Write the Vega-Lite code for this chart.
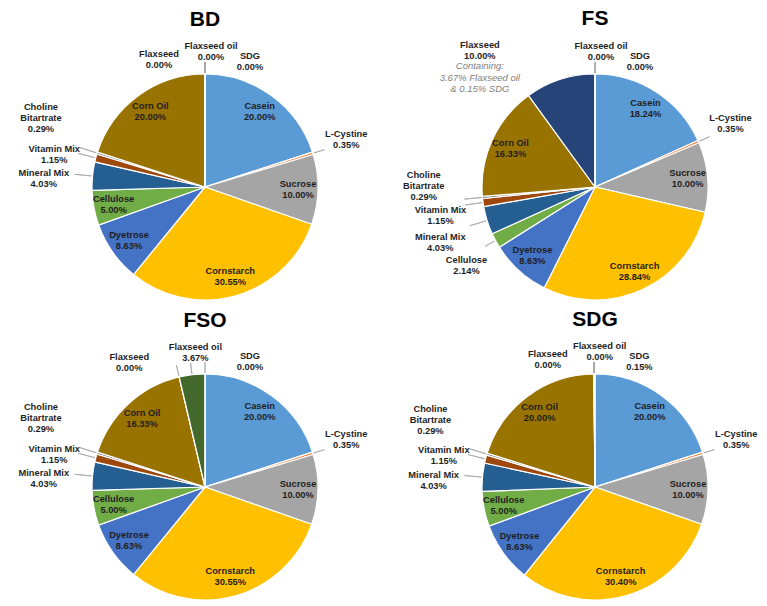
{
  "$schema": "https://vega.github.io/schema/vega-lite/v6.json",
  "padding": {"left": 18, "top": 8, "right": 0, "bottom": 0},
  "background": "#ffffff",
  "bounds": "flush",
  "columns": 2,
  "spacing": {"row": 64, "column": 50},
  "config": {
    "view": {"stroke": null},
    "font": "Liberation Sans",
    "title": {"font": "Liberation Sans", "fontSize": 21, "fontWeight": "bold", "color": "#000000", "anchor": "middle", "baseline": "alphabetic", "offset": 12},
    "text": {"font": "Liberation Sans", "fontSize": 9.3, "fontWeight": "bold", "color": "#1f1f1f", "lineBreak": "\n", "lineHeight": 11, "align": "center", "baseline": "middle"},
    "arc": {"stroke": "#ffffff", "strokeWidth": 1.2}
  },
  "data": {"values": [
    {"d": "BD", "k": 1, "name": "Casein", "v": 20.00},
    {"d": "BD", "k": 2, "name": "L-Cystine", "v": 0.35},
    {"d": "BD", "k": 3, "name": "Sucrose", "v": 10.00},
    {"d": "BD", "k": 4, "name": "Cornstarch", "v": 30.55},
    {"d": "BD", "k": 5, "name": "Dyetrose", "v": 8.63},
    {"d": "BD", "k": 6, "name": "Cellulose", "v": 5.00},
    {"d": "BD", "k": 7, "name": "Mineral Mix", "v": 4.03},
    {"d": "BD", "k": 8, "name": "Vitamin Mix", "v": 1.15},
    {"d": "BD", "k": 9, "name": "Choline Bitartrate", "v": 0.29},
    {"d": "BD", "k": 10, "name": "Corn Oil", "v": 20.00},
    {"d": "BD", "k": 11, "name": "Flaxseed", "v": 0},
    {"d": "BD", "k": 12, "name": "Flaxseed oil", "v": 0},
    {"d": "BD", "k": 13, "name": "SDG", "v": 0},
    {"d": "FS", "k": 1, "name": "Casein", "v": 18.24},
    {"d": "FS", "k": 2, "name": "L-Cystine", "v": 0.35},
    {"d": "FS", "k": 3, "name": "Sucrose", "v": 10.00},
    {"d": "FS", "k": 4, "name": "Cornstarch", "v": 28.84},
    {"d": "FS", "k": 5, "name": "Dyetrose", "v": 8.63},
    {"d": "FS", "k": 6, "name": "Cellulose", "v": 2.14},
    {"d": "FS", "k": 7, "name": "Mineral Mix", "v": 4.03},
    {"d": "FS", "k": 8, "name": "Vitamin Mix", "v": 1.15},
    {"d": "FS", "k": 9, "name": "Choline Bitartrate", "v": 0.29},
    {"d": "FS", "k": 10, "name": "Corn Oil", "v": 16.33},
    {"d": "FS", "k": 11, "name": "Flaxseed", "v": 10.00},
    {"d": "FS", "k": 12, "name": "Flaxseed oil", "v": 0},
    {"d": "FS", "k": 13, "name": "SDG", "v": 0},
    {"d": "FSO", "k": 1, "name": "Casein", "v": 20.00},
    {"d": "FSO", "k": 2, "name": "L-Cystine", "v": 0.35},
    {"d": "FSO", "k": 3, "name": "Sucrose", "v": 10.00},
    {"d": "FSO", "k": 4, "name": "Cornstarch", "v": 30.55},
    {"d": "FSO", "k": 5, "name": "Dyetrose", "v": 8.63},
    {"d": "FSO", "k": 6, "name": "Cellulose", "v": 5.00},
    {"d": "FSO", "k": 7, "name": "Mineral Mix", "v": 4.03},
    {"d": "FSO", "k": 8, "name": "Vitamin Mix", "v": 1.15},
    {"d": "FSO", "k": 9, "name": "Choline Bitartrate", "v": 0.29},
    {"d": "FSO", "k": 10, "name": "Corn Oil", "v": 16.33},
    {"d": "FSO", "k": 11, "name": "Flaxseed", "v": 0},
    {"d": "FSO", "k": 12, "name": "Flaxseed oil", "v": 3.67},
    {"d": "FSO", "k": 13, "name": "SDG", "v": 0},
    {"d": "SDG", "k": 1, "name": "Casein", "v": 20.00},
    {"d": "SDG", "k": 2, "name": "L-Cystine", "v": 0.35},
    {"d": "SDG", "k": 3, "name": "Sucrose", "v": 10.00},
    {"d": "SDG", "k": 4, "name": "Cornstarch", "v": 30.40},
    {"d": "SDG", "k": 5, "name": "Dyetrose", "v": 8.63},
    {"d": "SDG", "k": 6, "name": "Cellulose", "v": 5.00},
    {"d": "SDG", "k": 7, "name": "Mineral Mix", "v": 4.03},
    {"d": "SDG", "k": 8, "name": "Vitamin Mix", "v": 1.15},
    {"d": "SDG", "k": 9, "name": "Choline Bitartrate", "v": 0.29},
    {"d": "SDG", "k": 10, "name": "Corn Oil", "v": 20.00},
    {"d": "SDG", "k": 11, "name": "Flaxseed", "v": 0},
    {"d": "SDG", "k": 12, "name": "Flaxseed oil", "v": 0},
    {"d": "SDG", "k": 13, "name": "SDG", "v": 0.15}
  ]},
  "concat": [
    {
      "title": {"text": "BD"},
      "width": 340, "height": 236,
      "transform": [
        {"filter": "datum.d === 'BD'"},
        {"stack": "v", "groupby": [], "sort": [{"field": "k", "order": "ascending"}], "as": ["t0", "t1"]},
        {"calculate": "(datum.t0 + datum.t1) / 2", "as": "tm"},
        {"calculate": "replace(datum.name, 'Choline ', 'Choline\\n') + '\\n' + format(datum.v, '.2f') + '%'", "as": "lab"}
      ],
      "layer": [
        {"mark": {"type": "arc", "outerRadius": 113}, "encoding": {"theta": {"field": "t0", "type": "quantitative", "scale": {"domain": [0, 100]}}, "theta2": {"field": "t1"}, "color": {"field": "name", "type": "nominal", "legend": null, "scale": {"domain": ["Casein", "L-Cystine", "Sucrose", "Cornstarch", "Dyetrose", "Cellulose", "Mineral Mix", "Vitamin Mix", "Choline Bitartrate", "Corn Oil", "Flaxseed", "Flaxseed oil", "SDG"], "range": ["#5B9BD5", "#ED7D31", "#A5A5A5", "#FFC000", "#4472C4", "#70AD47", "#255E91", "#9E480E", "#636363", "#997300", "#264478", "#43682B", "#698ED0"]}}}},
        {"transform": [{"filter": "datum.v < 5 && datum.name !== 'Mineral Mix' && datum.name !== 'Vitamin Mix' && datum.name !== 'Choline Bitartrate'"}], "mark": {"type": "arc", "innerRadius": 114, "outerRadius": 125, "fill": "transparent", "stroke": "#a6a6a6", "strokeWidth": 0.8}, "encoding": {"theta": {"field": "tm", "type": "quantitative", "stack": null}, "theta2": {"field": "tm"}}},
        {"transform": [{"filter": "datum.name === 'Mineral Mix' || datum.name === 'Vitamin Mix' || datum.name === 'Choline Bitartrate'"}], "mark": {"type": "arc", "innerRadius": 114, "outerRadius": 131, "fill": "transparent", "stroke": "#a6a6a6", "strokeWidth": 0.8}, "encoding": {"theta": {"field": "tm", "type": "quantitative", "stack": null}, "theta2": {"field": "tm"}}},
        {"transform": [{"filter": "datum.v >= 5 && datum.name !== 'Flaxseed'"}], "mark": {"type": "text", "radius": 93, "dy": -5.5}, "encoding": {"theta": {"field": "tm", "type": "quantitative", "stack": null}, "text": {"field": "lab"}}},
        {"transform": [{"filter": "datum.name === 'L-Cystine'"}], "mark": {"type": "text", "radius": 148, "dy": -9}, "encoding": {"theta": {"field": "tm", "type": "quantitative", "stack": null}, "text": {"field": "lab"}}},
        {"transform": [{"filter": "datum.name === 'Mineral Mix'"}], "mark": {"type": "text", "radius": 162, "dy": 2}, "encoding": {"theta": {"field": "tm", "type": "quantitative", "stack": null}, "text": {"field": "lab"}}},
        {"transform": [{"filter": "datum.name === 'Vitamin Mix'"}], "mark": {"type": "text", "radius": 156, "dy": 2}, "encoding": {"theta": {"field": "tm", "type": "quantitative", "stack": null}, "text": {"field": "lab"}}},
        {"transform": [{"filter": "datum.name === 'Choline Bitartrate'"}], "mark": {"type": "text", "radius": 172, "dy": -28}, "encoding": {"theta": {"field": "tm", "type": "quantitative", "stack": null}, "text": {"field": "lab"}}},
        {"transform": [{"filter": "datum.name === 'Cellulose' && datum.v < 5"}], "mark": {"type": "text", "radius": 146, "dy": 4}, "encoding": {"theta": {"field": "tm", "type": "quantitative", "stack": null}, "text": {"field": "lab"}}},
        {"transform": [{"filter": "datum.name === 'Flaxseed' && datum.v === 0"}], "mark": {"type": "text", "radius": 130, "dx": -46, "dy": -3}, "encoding": {"theta": {"field": "tm", "type": "quantitative", "stack": null}, "text": {"field": "lab"}}},
        {"transform": [{"filter": "datum.name === 'Flaxseed' && datum.v > 0"}], "mark": {"type": "text", "radius": 130, "dx": -75, "dy": -18}, "encoding": {"theta": {"field": "tm", "type": "quantitative", "stack": null}, "text": {"field": "lab"}}},
        {"transform": [{"filter": "datum.name === 'Flaxseed' && datum.v > 0"}], "mark": {"type": "text", "radius": 130, "dx": -75, "dy": 3, "fontWeight": "normal", "fontStyle": "italic", "fontSize": 9.5, "color": "#7f7f7f", "lineHeight": 11.5}, "encoding": {"theta": {"field": "tm", "type": "quantitative", "stack": null}, "text": {"value": "Containing:\n3.67% Flaxseed oil\n& 0.15% SDG"}}},
        {"transform": [{"filter": "datum.name === 'Flaxseed oil'"}], "mark": {"type": "text", "radius": 136, "dx": 6, "dy": -5}, "encoding": {"theta": {"field": "tm", "type": "quantitative", "stack": null}, "text": {"field": "lab"}}},
        {"transform": [{"filter": "datum.name === 'SDG'"}], "mark": {"type": "text", "radius": 128, "dx": 45, "dy": -3}, "encoding": {"theta": {"field": "tm", "type": "quantitative", "stack": null}, "text": {"field": "lab"}}}
      ]
    },
    {
      "title": {"text": "FS"},
      "width": 340, "height": 236,
      "transform": [
        {"filter": "datum.d === 'FS'"},
        {"stack": "v", "groupby": [], "sort": [{"field": "k", "order": "ascending"}], "as": ["t0", "t1"]},
        {"calculate": "(datum.t0 + datum.t1) / 2", "as": "tm"},
        {"calculate": "replace(datum.name, 'Choline ', 'Choline\\n') + '\\n' + format(datum.v, '.2f') + '%'", "as": "lab"}
      ],
      "layer": [
        {"mark": {"type": "arc", "outerRadius": 113}, "encoding": {"theta": {"field": "t0", "type": "quantitative", "scale": {"domain": [0, 100]}}, "theta2": {"field": "t1"}, "color": {"field": "name", "type": "nominal", "legend": null, "scale": {"domain": ["Casein", "L-Cystine", "Sucrose", "Cornstarch", "Dyetrose", "Cellulose", "Mineral Mix", "Vitamin Mix", "Choline Bitartrate", "Corn Oil", "Flaxseed", "Flaxseed oil", "SDG"], "range": ["#5B9BD5", "#ED7D31", "#A5A5A5", "#FFC000", "#4472C4", "#70AD47", "#255E91", "#9E480E", "#636363", "#997300", "#264478", "#43682B", "#698ED0"]}}}},
        {"transform": [{"filter": "datum.v < 5 && datum.name !== 'Mineral Mix' && datum.name !== 'Vitamin Mix' && datum.name !== 'Choline Bitartrate'"}], "mark": {"type": "arc", "innerRadius": 114, "outerRadius": 125, "fill": "transparent", "stroke": "#a6a6a6", "strokeWidth": 0.8}, "encoding": {"theta": {"field": "tm", "type": "quantitative", "stack": null}, "theta2": {"field": "tm"}}},
        {"transform": [{"filter": "datum.name === 'Mineral Mix' || datum.name === 'Vitamin Mix' || datum.name === 'Choline Bitartrate'"}], "mark": {"type": "arc", "innerRadius": 114, "outerRadius": 131, "fill": "transparent", "stroke": "#a6a6a6", "strokeWidth": 0.8}, "encoding": {"theta": {"field": "tm", "type": "quantitative", "stack": null}, "theta2": {"field": "tm"}}},
        {"transform": [{"filter": "datum.v >= 5 && datum.name !== 'Flaxseed'"}], "mark": {"type": "text", "radius": 93, "dy": -5.5}, "encoding": {"theta": {"field": "tm", "type": "quantitative", "stack": null}, "text": {"field": "lab"}}},
        {"transform": [{"filter": "datum.name === 'L-Cystine'"}], "mark": {"type": "text", "radius": 148, "dy": -9}, "encoding": {"theta": {"field": "tm", "type": "quantitative", "stack": null}, "text": {"field": "lab"}}},
        {"transform": [{"filter": "datum.name === 'Mineral Mix'"}], "mark": {"type": "text", "radius": 162, "dy": 2}, "encoding": {"theta": {"field": "tm", "type": "quantitative", "stack": null}, "text": {"field": "lab"}}},
        {"transform": [{"filter": "datum.name === 'Vitamin Mix'"}], "mark": {"type": "text", "radius": 156, "dy": 2}, "encoding": {"theta": {"field": "tm", "type": "quantitative", "stack": null}, "text": {"field": "lab"}}},
        {"transform": [{"filter": "datum.name === 'Choline Bitartrate'"}], "mark": {"type": "text", "radius": 172, "dy": -28}, "encoding": {"theta": {"field": "tm", "type": "quantitative", "stack": null}, "text": {"field": "lab"}}},
        {"transform": [{"filter": "datum.name === 'Cellulose' && datum.v < 5"}], "mark": {"type": "text", "radius": 146, "dy": 4}, "encoding": {"theta": {"field": "tm", "type": "quantitative", "stack": null}, "text": {"field": "lab"}}},
        {"transform": [{"filter": "datum.name === 'Flaxseed' && datum.v === 0"}], "mark": {"type": "text", "radius": 130, "dx": -46, "dy": -3}, "encoding": {"theta": {"field": "tm", "type": "quantitative", "stack": null}, "text": {"field": "lab"}}},
        {"transform": [{"filter": "datum.name === 'Flaxseed' && datum.v > 0"}], "mark": {"type": "text", "radius": 130, "dx": -75, "dy": -18}, "encoding": {"theta": {"field": "tm", "type": "quantitative", "stack": null}, "text": {"field": "lab"}}},
        {"transform": [{"filter": "datum.name === 'Flaxseed' && datum.v > 0"}], "mark": {"type": "text", "radius": 130, "dx": -75, "dy": 3, "fontWeight": "normal", "fontStyle": "italic", "fontSize": 9.5, "color": "#7f7f7f", "lineHeight": 11.5}, "encoding": {"theta": {"field": "tm", "type": "quantitative", "stack": null}, "text": {"value": "Containing:\n3.67% Flaxseed oil\n& 0.15% SDG"}}},
        {"transform": [{"filter": "datum.name === 'Flaxseed oil'"}], "mark": {"type": "text", "radius": 136, "dx": 6, "dy": -5}, "encoding": {"theta": {"field": "tm", "type": "quantitative", "stack": null}, "text": {"field": "lab"}}},
        {"transform": [{"filter": "datum.name === 'SDG'"}], "mark": {"type": "text", "radius": 128, "dx": 45, "dy": -3}, "encoding": {"theta": {"field": "tm", "type": "quantitative", "stack": null}, "text": {"field": "lab"}}}
      ]
    },
    {
      "title": {"text": "FSO"},
      "width": 340, "height": 236,
      "transform": [
        {"filter": "datum.d === 'FSO'"},
        {"stack": "v", "groupby": [], "sort": [{"field": "k", "order": "ascending"}], "as": ["t0", "t1"]},
        {"calculate": "(datum.t0 + datum.t1) / 2", "as": "tm"},
        {"calculate": "replace(datum.name, 'Choline ', 'Choline\\n') + '\\n' + format(datum.v, '.2f') + '%'", "as": "lab"}
      ],
      "layer": [
        {"mark": {"type": "arc", "outerRadius": 113}, "encoding": {"theta": {"field": "t0", "type": "quantitative", "scale": {"domain": [0, 100]}}, "theta2": {"field": "t1"}, "color": {"field": "name", "type": "nominal", "legend": null, "scale": {"domain": ["Casein", "L-Cystine", "Sucrose", "Cornstarch", "Dyetrose", "Cellulose", "Mineral Mix", "Vitamin Mix", "Choline Bitartrate", "Corn Oil", "Flaxseed", "Flaxseed oil", "SDG"], "range": ["#5B9BD5", "#ED7D31", "#A5A5A5", "#FFC000", "#4472C4", "#70AD47", "#255E91", "#9E480E", "#636363", "#997300", "#264478", "#43682B", "#698ED0"]}}}},
        {"transform": [{"filter": "datum.v < 5 && datum.name !== 'Mineral Mix' && datum.name !== 'Vitamin Mix' && datum.name !== 'Choline Bitartrate'"}], "mark": {"type": "arc", "innerRadius": 114, "outerRadius": 125, "fill": "transparent", "stroke": "#a6a6a6", "strokeWidth": 0.8}, "encoding": {"theta": {"field": "tm", "type": "quantitative", "stack": null}, "theta2": {"field": "tm"}}},
        {"transform": [{"filter": "datum.name === 'Mineral Mix' || datum.name === 'Vitamin Mix' || datum.name === 'Choline Bitartrate'"}], "mark": {"type": "arc", "innerRadius": 114, "outerRadius": 131, "fill": "transparent", "stroke": "#a6a6a6", "strokeWidth": 0.8}, "encoding": {"theta": {"field": "tm", "type": "quantitative", "stack": null}, "theta2": {"field": "tm"}}},
        {"transform": [{"filter": "datum.v >= 5 && datum.name !== 'Flaxseed'"}], "mark": {"type": "text", "radius": 93, "dy": -5.5}, "encoding": {"theta": {"field": "tm", "type": "quantitative", "stack": null}, "text": {"field": "lab"}}},
        {"transform": [{"filter": "datum.name === 'L-Cystine'"}], "mark": {"type": "text", "radius": 148, "dy": -9}, "encoding": {"theta": {"field": "tm", "type": "quantitative", "stack": null}, "text": {"field": "lab"}}},
        {"transform": [{"filter": "datum.name === 'Mineral Mix'"}], "mark": {"type": "text", "radius": 162, "dy": 2}, "encoding": {"theta": {"field": "tm", "type": "quantitative", "stack": null}, "text": {"field": "lab"}}},
        {"transform": [{"filter": "datum.name === 'Vitamin Mix'"}], "mark": {"type": "text", "radius": 156, "dy": 2}, "encoding": {"theta": {"field": "tm", "type": "quantitative", "stack": null}, "text": {"field": "lab"}}},
        {"transform": [{"filter": "datum.name === 'Choline Bitartrate'"}], "mark": {"type": "text", "radius": 172, "dy": -28}, "encoding": {"theta": {"field": "tm", "type": "quantitative", "stack": null}, "text": {"field": "lab"}}},
        {"transform": [{"filter": "datum.name === 'Cellulose' && datum.v < 5"}], "mark": {"type": "text", "radius": 146, "dy": 4}, "encoding": {"theta": {"field": "tm", "type": "quantitative", "stack": null}, "text": {"field": "lab"}}},
        {"transform": [{"filter": "datum.name === 'Flaxseed' && datum.v === 0"}], "mark": {"type": "text", "radius": 130, "dx": -46, "dy": -3}, "encoding": {"theta": {"field": "tm", "type": "quantitative", "stack": null}, "text": {"field": "lab"}}},
        {"transform": [{"filter": "datum.name === 'Flaxseed' && datum.v > 0"}], "mark": {"type": "text", "radius": 130, "dx": -75, "dy": -18}, "encoding": {"theta": {"field": "tm", "type": "quantitative", "stack": null}, "text": {"field": "lab"}}},
        {"transform": [{"filter": "datum.name === 'Flaxseed' && datum.v > 0"}], "mark": {"type": "text", "radius": 130, "dx": -75, "dy": 3, "fontWeight": "normal", "fontStyle": "italic", "fontSize": 9.5, "color": "#7f7f7f", "lineHeight": 11.5}, "encoding": {"theta": {"field": "tm", "type": "quantitative", "stack": null}, "text": {"value": "Containing:\n3.67% Flaxseed oil\n& 0.15% SDG"}}},
        {"transform": [{"filter": "datum.name === 'Flaxseed oil'"}], "mark": {"type": "text", "radius": 136, "dx": 6, "dy": -5}, "encoding": {"theta": {"field": "tm", "type": "quantitative", "stack": null}, "text": {"field": "lab"}}},
        {"transform": [{"filter": "datum.name === 'SDG'"}], "mark": {"type": "text", "radius": 128, "dx": 45, "dy": -3}, "encoding": {"theta": {"field": "tm", "type": "quantitative", "stack": null}, "text": {"field": "lab"}}}
      ]
    },
    {
      "title": {"text": "SDG"},
      "width": 340, "height": 236,
      "transform": [
        {"filter": "datum.d === 'SDG'"},
        {"stack": "v", "groupby": [], "sort": [{"field": "k", "order": "ascending"}], "as": ["t0", "t1"]},
        {"calculate": "(datum.t0 + datum.t1) / 2", "as": "tm"},
        {"calculate": "replace(datum.name, 'Choline ', 'Choline\\n') + '\\n' + format(datum.v, '.2f') + '%'", "as": "lab"}
      ],
      "layer": [
        {"mark": {"type": "arc", "outerRadius": 113}, "encoding": {"theta": {"field": "t0", "type": "quantitative", "scale": {"domain": [0, 100]}}, "theta2": {"field": "t1"}, "color": {"field": "name", "type": "nominal", "legend": null, "scale": {"domain": ["Casein", "L-Cystine", "Sucrose", "Cornstarch", "Dyetrose", "Cellulose", "Mineral Mix", "Vitamin Mix", "Choline Bitartrate", "Corn Oil", "Flaxseed", "Flaxseed oil", "SDG"], "range": ["#5B9BD5", "#ED7D31", "#A5A5A5", "#FFC000", "#4472C4", "#70AD47", "#255E91", "#9E480E", "#636363", "#997300", "#264478", "#43682B", "#698ED0"]}}}},
        {"transform": [{"filter": "datum.v < 5 && datum.name !== 'Mineral Mix' && datum.name !== 'Vitamin Mix' && datum.name !== 'Choline Bitartrate'"}], "mark": {"type": "arc", "innerRadius": 114, "outerRadius": 125, "fill": "transparent", "stroke": "#a6a6a6", "strokeWidth": 0.8}, "encoding": {"theta": {"field": "tm", "type": "quantitative", "stack": null}, "theta2": {"field": "tm"}}},
        {"transform": [{"filter": "datum.name === 'Mineral Mix' || datum.name === 'Vitamin Mix' || datum.name === 'Choline Bitartrate'"}], "mark": {"type": "arc", "innerRadius": 114, "outerRadius": 131, "fill": "transparent", "stroke": "#a6a6a6", "strokeWidth": 0.8}, "encoding": {"theta": {"field": "tm", "type": "quantitative", "stack": null}, "theta2": {"field": "tm"}}},
        {"transform": [{"filter": "datum.v >= 5 && datum.name !== 'Flaxseed'"}], "mark": {"type": "text", "radius": 93, "dy": -5.5}, "encoding": {"theta": {"field": "tm", "type": "quantitative", "stack": null}, "text": {"field": "lab"}}},
        {"transform": [{"filter": "datum.name === 'L-Cystine'"}], "mark": {"type": "text", "radius": 148, "dy": -9}, "encoding": {"theta": {"field": "tm", "type": "quantitative", "stack": null}, "text": {"field": "lab"}}},
        {"transform": [{"filter": "datum.name === 'Mineral Mix'"}], "mark": {"type": "text", "radius": 162, "dy": 2}, "encoding": {"theta": {"field": "tm", "type": "quantitative", "stack": null}, "text": {"field": "lab"}}},
        {"transform": [{"filter": "datum.name === 'Vitamin Mix'"}], "mark": {"type": "text", "radius": 156, "dy": 2}, "encoding": {"theta": {"field": "tm", "type": "quantitative", "stack": null}, "text": {"field": "lab"}}},
        {"transform": [{"filter": "datum.name === 'Choline Bitartrate'"}], "mark": {"type": "text", "radius": 172, "dy": -28}, "encoding": {"theta": {"field": "tm", "type": "quantitative", "stack": null}, "text": {"field": "lab"}}},
        {"transform": [{"filter": "datum.name === 'Cellulose' && datum.v < 5"}], "mark": {"type": "text", "radius": 146, "dy": 4}, "encoding": {"theta": {"field": "tm", "type": "quantitative", "stack": null}, "text": {"field": "lab"}}},
        {"transform": [{"filter": "datum.name === 'Flaxseed' && datum.v === 0"}], "mark": {"type": "text", "radius": 130, "dx": -46, "dy": -3}, "encoding": {"theta": {"field": "tm", "type": "quantitative", "stack": null}, "text": {"field": "lab"}}},
        {"transform": [{"filter": "datum.name === 'Flaxseed' && datum.v > 0"}], "mark": {"type": "text", "radius": 130, "dx": -75, "dy": -18}, "encoding": {"theta": {"field": "tm", "type": "quantitative", "stack": null}, "text": {"field": "lab"}}},
        {"transform": [{"filter": "datum.name === 'Flaxseed' && datum.v > 0"}], "mark": {"type": "text", "radius": 130, "dx": -75, "dy": 3, "fontWeight": "normal", "fontStyle": "italic", "fontSize": 9.5, "color": "#7f7f7f", "lineHeight": 11.5}, "encoding": {"theta": {"field": "tm", "type": "quantitative", "stack": null}, "text": {"value": "Containing:\n3.67% Flaxseed oil\n& 0.15% SDG"}}},
        {"transform": [{"filter": "datum.name === 'Flaxseed oil'"}], "mark": {"type": "text", "radius": 136, "dx": 6, "dy": -5}, "encoding": {"theta": {"field": "tm", "type": "quantitative", "stack": null}, "text": {"field": "lab"}}},
        {"transform": [{"filter": "datum.name === 'SDG'"}], "mark": {"type": "text", "radius": 128, "dx": 45, "dy": -3}, "encoding": {"theta": {"field": "tm", "type": "quantitative", "stack": null}, "text": {"field": "lab"}}}
      ]
    }
  ]
}
